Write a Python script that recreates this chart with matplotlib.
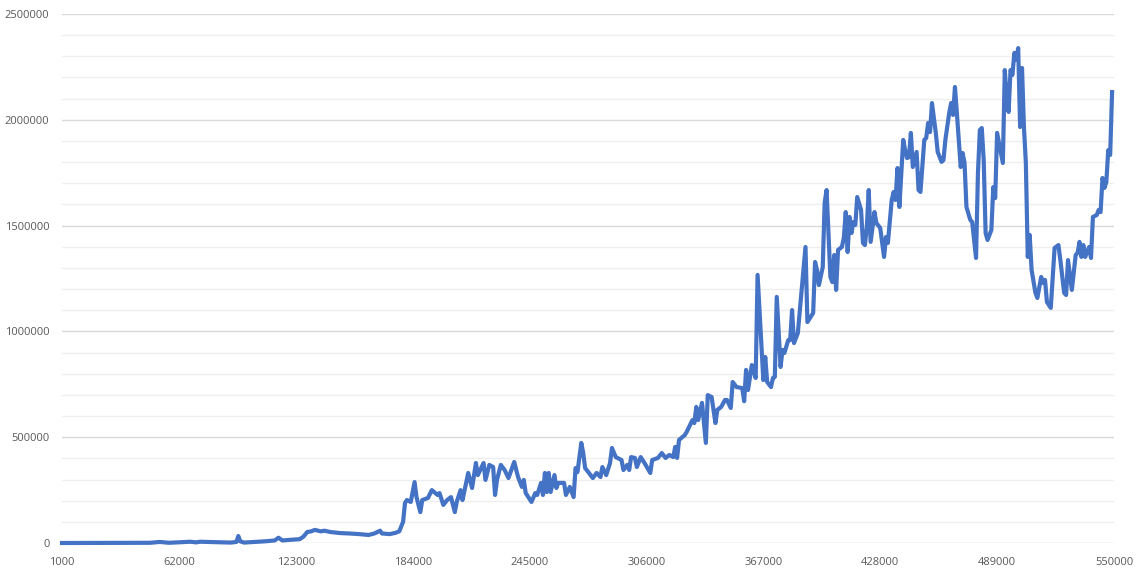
import matplotlib
matplotlib.use("Agg")
import matplotlib.pyplot as plt
from matplotlib.ticker import MultipleLocator, FixedLocator

# values
x = [1000, 47000, 52000, 57000, 68000, 71000, 73000, 89000, 92000, 93000,
     94000, 96000, 102000, 107000, 112000, 114000, 116000, 120000, 125000, 127000,
     129000, 131000, 133000, 136000, 138000, 141000, 146000, 151000, 156000, 161000,
     164000, 167000, 168000, 172000, 175000, 177000, 179000, 180000, 181000, 183000,
     185000, 186000, 188000, 189000, 192000, 194000, 197000, 198000, 200000, 202000,
     204000, 206000, 207000, 209000, 210000, 213000, 215000, 217000, 218000, 221000,
     222000, 224000, 226000, 227000, 228000, 230000, 232000, 234000, 237000, 239000,
     241000, 242000, 243000, 246000, 248000, 249000, 251000, 252000, 253000, 254000,
     255000, 256000, 258000, 259000, 260000, 263000, 264000, 266000, 268000, 269000,
     270000, 272000, 273000, 274000, 276000, 278000, 280000, 282000, 283000, 285000,
     287000, 288000, 290000, 293000, 294000, 296000, 297000, 298000, 300000, 301000,
     303000, 305000, 308000, 309000, 312000, 314000, 316000, 318000, 320000, 321000,
     322000, 323000, 326000, 327000, 330000, 331000, 332000, 333000, 335000, 337000,
     338000, 340000, 342000, 343000, 345000, 347000, 348000, 350000, 351000, 353000,
     356000, 357000, 358000, 359000, 361000, 363000, 364000, 367000, 368000, 369000,
     371000, 372000, 373000, 374000, 376000, 377000, 378000, 380000, 381000, 382000,
     383000, 385000, 387000, 389000, 390000, 393000, 394000, 395000, 396000, 398000,
     399000, 400000, 402000, 403000, 404000, 405000, 406000, 408000, 409000, 410000,
     411000, 412000, 413000, 414000, 415000, 416000, 418000, 419000, 420000, 421000,
     422000, 423000, 425000, 426000, 428000, 430000, 431000, 432000, 434000, 435000,
     436000, 437000, 438000, 440000, 441000, 442000, 443000, 444000, 445000, 447000,
     448000, 449000, 451000, 452000, 453000, 454000, 455000, 457000, 458000, 460000,
     461000, 462000, 464000, 465000, 466000, 467000, 468000, 470000, 471000, 472000,
     473000, 475000, 476000, 478000, 479000, 480000, 481000, 482000, 483000, 484000,
     486000, 487000, 488000, 489000, 492000, 493000, 494000, 495000, 496000, 497000,
     498000, 499000, 500000, 501000, 502000, 503000, 504000, 505000, 506000, 507000,
     509000, 510000, 512000, 513000, 514000, 515000, 517000, 519000, 521000, 522000,
     524000, 525000, 526000, 528000, 530000, 531000, 532000, 533000, 534000, 535000,
     537000, 538000, 539000, 541000, 542000, 543000, 544000, 545000, 546000, 547000,
     548000, 549000]

y = [0, 1000, 5000, 1000, 6000, 3000, 6000, 2000, 5000, 33000,
     8000, 2000, 5000, 8000, 12000, 25000, 12000, 15000, 18000, 30000,
     52000, 55000, 62000, 55000, 58000, 52000, 47000, 45000, 42000, 38000,
     45000, 58000, 45000, 42000, 48000, 55000, 100000, 189000, 203000, 194000,
     288000, 217000, 146000, 203000, 213000, 250000, 227000, 236000, 180000, 203000,
     217000, 146000, 194000, 250000, 203000, 331000, 260000, 378000, 321000, 378000,
     298000, 369000, 359000, 227000, 298000, 369000, 345000, 307000, 383000, 312000,
     265000, 298000, 236000, 194000, 236000, 227000, 284000, 227000, 331000, 241000,
     331000, 241000, 321000, 260000, 284000, 284000, 227000, 265000, 217000, 354000,
     335000, 473000, 425000, 354000, 331000, 307000, 331000, 312000, 359000, 321000,
     378000, 449000, 406000, 392000, 345000, 369000, 345000, 406000, 402000, 359000,
     406000, 378000, 331000, 392000, 402000, 425000, 402000, 416000, 406000, 454000,
     402000, 487000, 510000, 525000, 581000, 567000, 643000, 581000, 662000, 473000,
     699000, 690000, 567000, 629000, 643000, 676000, 676000, 638000, 761000, 737000,
     732000, 670000, 818000, 723000, 841000, 780000, 1267000, 770000, 879000, 761000,
     737000, 780000, 785000, 1163000, 832000, 912000, 898000, 959000, 959000, 1101000,
     945000, 992000, 1196000, 1399000, 1044000, 1087000, 1328000, 1290000, 1219000, 1304000,
     1607000, 1668000, 1257000, 1233000, 1361000, 1196000, 1385000, 1399000, 1441000, 1564000,
     1375000, 1541000, 1465000, 1517000, 1503000, 1635000, 1574000, 1418000, 1408000, 1493000,
     1668000, 1423000, 1564000, 1512000, 1489000, 1352000, 1446000, 1418000, 1621000, 1659000,
     1621000, 1772000, 1588000, 1905000, 1857000, 1819000, 1824000, 1938000, 1777000, 1848000,
     1668000, 1659000, 1905000, 1914000, 1985000, 1942000, 2079000, 1938000, 1848000, 1801000,
     1810000, 1905000, 2032000, 2079000, 2023000, 2155000, 2032000, 1777000, 1843000, 1796000,
     1588000, 1527000, 1517000, 1347000, 1749000, 1952000, 1961000, 1810000, 1465000, 1432000,
     1479000, 1682000, 1630000, 1938000, 1796000, 2235000, 2108000, 2037000, 2235000, 2212000,
     2316000, 2283000, 2339000, 1966000, 2245000, 1966000, 1796000, 1352000, 1456000, 1290000,
     1182000, 1158000, 1257000, 1229000, 1243000, 1139000, 1111000, 1394000, 1408000, 1337000,
     1182000, 1172000, 1337000, 1196000, 1361000, 1371000, 1423000, 1352000, 1408000, 1352000,
     1399000, 1347000, 1541000, 1550000, 1574000, 1564000, 1725000, 1678000, 1706000, 1857000,
     1834000, 2131000]

xticks = [1000, 62000, 123000, 184000, 245000, 306000, 367000, 428000, 489000, 550000]

plt.rcParams['font.family'] = ['Open Sans', 'DejaVu Sans']

fig = plt.figure(figsize=(11.4, 5.72), dpi=100)
ax = fig.add_axes([62/1140, 1-543/572, (1114-62)/1140, (543-14)/572])

ax.plot(x, y, color='#4472C4', linewidth=3.0, solid_joinstyle='round', clip_on=False, zorder=3)

ax.set_xlim(1000, 550000)
ax.set_ylim(0, 2500000)
ax.xaxis.set_major_locator(FixedLocator(xticks))
ax.set_xticklabels([str(v) for v in xticks])
ax.yaxis.set_major_locator(MultipleLocator(500000))
ax.yaxis.set_minor_locator(MultipleLocator(100000))
ax.yaxis.set_major_formatter(plt.FuncFormatter(lambda v, p: "%d" % v))

ax.grid(which='major', axis='y', color='#d9d9d9', linewidth=1.0, zorder=0)
ax.grid(which='minor', axis='y', color='#eeeeee', linewidth=1.0, zorder=0)
ax.grid(False, axis='x')
for s in ax.spines.values():
    s.set_visible(False)

ax.tick_params(axis='both', which='both', length=0, labelsize=8, colors='#595959')
ax.tick_params(axis='x', pad=10)
ax.tick_params(axis='y', pad=9)

fig.savefig('out.png', dpi=100)
